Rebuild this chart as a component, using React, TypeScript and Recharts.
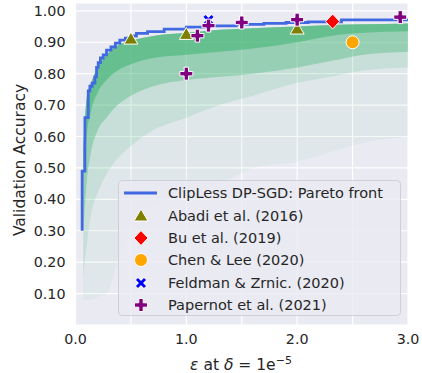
import React from "react";
import {
  ComposedChart,
  Area,
  Line,
  Scatter,
  XAxis,
  YAxis,
  CartesianGrid,
} from "recharts";

// pareto front of the ClipLess DP-SGD runs
const frontEps = [0.06, 0.06, 0.085, 0.115, 0.13, 0.15, 0.175, 0.19, 0.205, 0.225, 0.25, 0.28, 0.32, 0.36, 0.4, 0.45, 0.5, 0.55, 0.65, 0.8, 1.0, 1.2, 1.45, 1.7, 1.9, 2.1, 2.4, 3.0];
const frontAcc = [0.3, 0.49, 0.66, 0.745, 0.76, 0.77, 0.79, 0.82, 0.835, 0.85, 0.86, 0.875, 0.885, 0.897, 0.907, 0.913, 0.92, 0.928, 0.934, 0.942, 0.948, 0.952, 0.957, 0.96, 0.963, 0.965, 0.971, 0.971];

// the cloud of individual runs, as bands (top edge + lower edge of each density level)
const cloudEps = [0.07, 0.1, 0.14, 0.2, 0.28, 0.38, 0.5, 0.7, 1.0, 1.3, 1.6, 2.0, 2.3, 2.6, 3.0];
const cloudTop = [0.55, 0.72, 0.77, 0.82, 0.86, 0.89, 0.905, 0.92, 0.93, 0.94, 0.945, 0.95, 0.955, 0.957, 0.96];
const coreLow = [0.45, 0.6, 0.68, 0.74, 0.78, 0.81, 0.83, 0.85, 0.86, 0.87, 0.88, 0.9, 0.92, 0.93, 0.935];
const denseLow = [0.3, 0.45, 0.55, 0.62, 0.66, 0.7, 0.73, 0.76, 0.78, 0.79, 0.8, 0.82, 0.84, 0.86, 0.87];
const midLow = [0.15, 0.25, 0.35, 0.42, 0.48, 0.53, 0.57, 0.62, 0.66, 0.7, 0.73, 0.77, 0.79, 0.81, 0.82];
const faintLow = [0.08, 0.08, 0.08, 0.09, 0.1, 0.2, 0.3, 0.38, 0.42, 0.45, 0.5, 0.52, 0.55, 0.58, 0.6];

// published results
const abadi = [[0.5, 0.91], [1.0, 0.925], [2.0, 0.942]];
const bu = [[2.32, 0.966]];
const chen = [[2.5, 0.9]];
const feldman = [[1.2, 0.971]];
const papernot = [[1.0, 0.8], [1.1, 0.921], [1.2, 0.953], [1.5, 0.963], [2.0, 0.972], [2.93, 0.98]];

const xTicks = [0, 0.5, 1, 1.5, 2, 2.5, 3];
const yTicks = [0.1, 0.2, 0.3, 0.4, 0.5, 0.6, 0.7, 0.8, 0.9, 1.0];

const FONT = "DejaVu Sans";
const TXT = "#262626";

const cloud = cloudEps.map((e, i) => ({
  eps: e,
  faint: [faintLow[i], cloudTop[i]],
  mid: [midLow[i], cloudTop[i]],
  dense: [denseLow[i], cloudTop[i]],
  core: [coreLow[i], cloudTop[i]],
}));
const front = frontEps.map((e, i) => ({ eps: e, acc: frontAcc[i] }));
const pts = (a: number[][]) => a.map(([eps, acc]) => ({ eps, acc }));

// marker shapes
const Tri = ({ cx, cy }: any) => (
  <polygon points={`${cx},${cy - 7} ${cx - 7},${cy + 5} ${cx + 7},${cy + 5}`} fill="#808000" stroke="#fff" strokeWidth={1} />
);
const Diamond = ({ cx, cy }: any) => (
  <polygon points={`${cx},${cy - 7.5} ${cx + 7},${cy} ${cx},${cy + 7.5} ${cx - 7},${cy}`} fill="#ff0000" stroke="#fff" strokeWidth={1} />
);
const Dot = ({ cx, cy }: any) => <circle cx={cx} cy={cy} r={6.5} fill="#ffa500" stroke="#fff" strokeWidth={1} />;
const Ex = ({ cx, cy }: any) => {
  const d = `M${cx - 4},${cy - 4}L${cx + 4},${cy + 4}M${cx - 4},${cy + 4}L${cx + 4},${cy - 4}`;
  return (
    <g>
      <path d={d} stroke="#fff" strokeWidth={5} />
      <path d={d} stroke="#0000ff" strokeWidth={3} />
    </g>
  );
};
const Plus = ({ cx, cy }: any) => {
  const a = 6.5, t = 2.2;
  const p = [
    [-t, -a], [t, -a], [t, -t], [a, -t], [a, t], [t, t], [t, a], [-t, a], [-t, t], [-a, t], [-a, -t], [-t, -t],
  ].map(([x, y]) => `${cx + x},${cy + y}`).join(" ");
  return <polygon points={p} fill="#800080" stroke="#fff" strokeWidth={1} />;
};

const legendItems = [
  { name: "ClipLess DP-SGD: Pareto front", shape: null },
  { name: "Abadi et al. (2016)", shape: Tri },
  { name: "Bu et al. (2019)", shape: Diamond },
  { name: "Chen & Lee (2020)", shape: Dot },
  { name: "Feldman & Zrnic. (2020)", shape: Ex },
  { name: "Papernot et al. (2021)", shape: Plus },
];

const LegendBox = () => (
  <div
    style={{
      position: "absolute",
      left: 118,
      top: 180,
      width: 283,
      height: 136,
      background: "rgba(234,234,242,0.8)",
      border: "1px solid #d0d0d8",
      borderRadius: 4,
      boxSizing: "border-box",
      fontFamily: FONT,
      fontSize: 14.5,
      color: TXT,
      paddingTop: 1,
    }}
  >
    {legendItems.map((it) => {
      const S = it.shape;
      return (
        <div key={it.name} style={{ display: "flex", alignItems: "center", height: 22.4 }}>
          <svg width={49} height={22} style={{ flex: "none" }}>
            {S ? <S cx={22} cy={11} /> : <line x1={5} x2={38} y1={11} y2={11} stroke="#4169e1" strokeWidth={3} />}
          </svg>
          <span style={{ whiteSpace: "nowrap" }}>{it.name}</span>
        </div>
      );
    })}
  </div>
);

const XLabel = () => (
  <text x={241} y={370} textAnchor="middle" fontFamily={FONT} fontSize={15.5} fill={TXT}>
    <tspan fontStyle="italic">ε</tspan>
    <tspan> at </tspan>
    <tspan fontStyle="italic">δ</tspan>
    <tspan> = 1e</tspan>
    <tspan dy={-6} fontSize={11}>−5</tspan>
  </text>
);

const YLabel = () => (
  <text x={25} y={160} transform="rotate(-90 25 160)" textAnchor="middle" fontFamily={FONT} fontSize={15.5} fill={TXT}>
    Validation Accuracy
  </text>
);

export default function App() {
  const tick = { fontFamily: FONT, fontSize: 14.3, fill: TXT };
  return (
    <div style={{ position: "absolute", left: 0, top: 0, width: 422, height: 373 }}>
      <ComposedChart width={422} height={373} data={cloud} margin={{ top: 3, right: 14, bottom: 0, left: 0 }}>
        <CartesianGrid fill="#eaeaf2" stroke="#fff" strokeWidth={1.2} />
        <XAxis
          type="number"
          dataKey="eps"
          domain={[0, 3]}
          ticks={xTicks}
          interval={0}
          tickFormatter={(v: number) => (Number.isInteger(v) ? v.toFixed(1) : "")}
          axisLine={false}
          tickLine={false}
          tickSize={0}
          tickMargin={9}
          height={48}
          tick={tick}
          label={{ content: <XLabel /> }}
        />
        <YAxis
          type="number"
          domain={[0, 1.025]}
          ticks={yTicks}
          interval={0}
          tickFormatter={(v: number) => v.toFixed(2)}
          axisLine={false}
          tickLine={false}
          tickSize={0}
          tickMargin={10}
          width={75.5}
          tick={tick}
          label={{ content: <YLabel /> }}
        />
        <Area dataKey="faint" type="monotone" fill="#3cb371" fillOpacity={0.06} stroke="none" isAnimationActive={false} />
        <Area dataKey="mid" type="monotone" fill="#3cb371" fillOpacity={0.14} stroke="none" isAnimationActive={false} />
        <Area dataKey="dense" type="monotone" fill="#3cb371" fillOpacity={0.35} stroke="none" isAnimationActive={false} />
        <Area dataKey="core" type="monotone" fill="#3cb371" fillOpacity={0.55} stroke="none" isAnimationActive={false} />
        <Line data={front} dataKey="acc" type="stepAfter" stroke="#4169e1" strokeWidth={2.8} dot={false} isAnimationActive={false} />
        <Scatter data={pts(abadi)} dataKey="acc" shape={Tri} isAnimationActive={false} />
        <Scatter data={pts(bu)} dataKey="acc" shape={Diamond} isAnimationActive={false} />
        <Scatter data={pts(chen)} dataKey="acc" shape={Dot} isAnimationActive={false} />
        <Scatter data={pts(feldman)} dataKey="acc" shape={Ex} isAnimationActive={false} />
        <Scatter data={pts(papernot)} dataKey="acc" shape={Plus} isAnimationActive={false} />
      </ComposedChart>
      <LegendBox />
    </div>
  );
}
